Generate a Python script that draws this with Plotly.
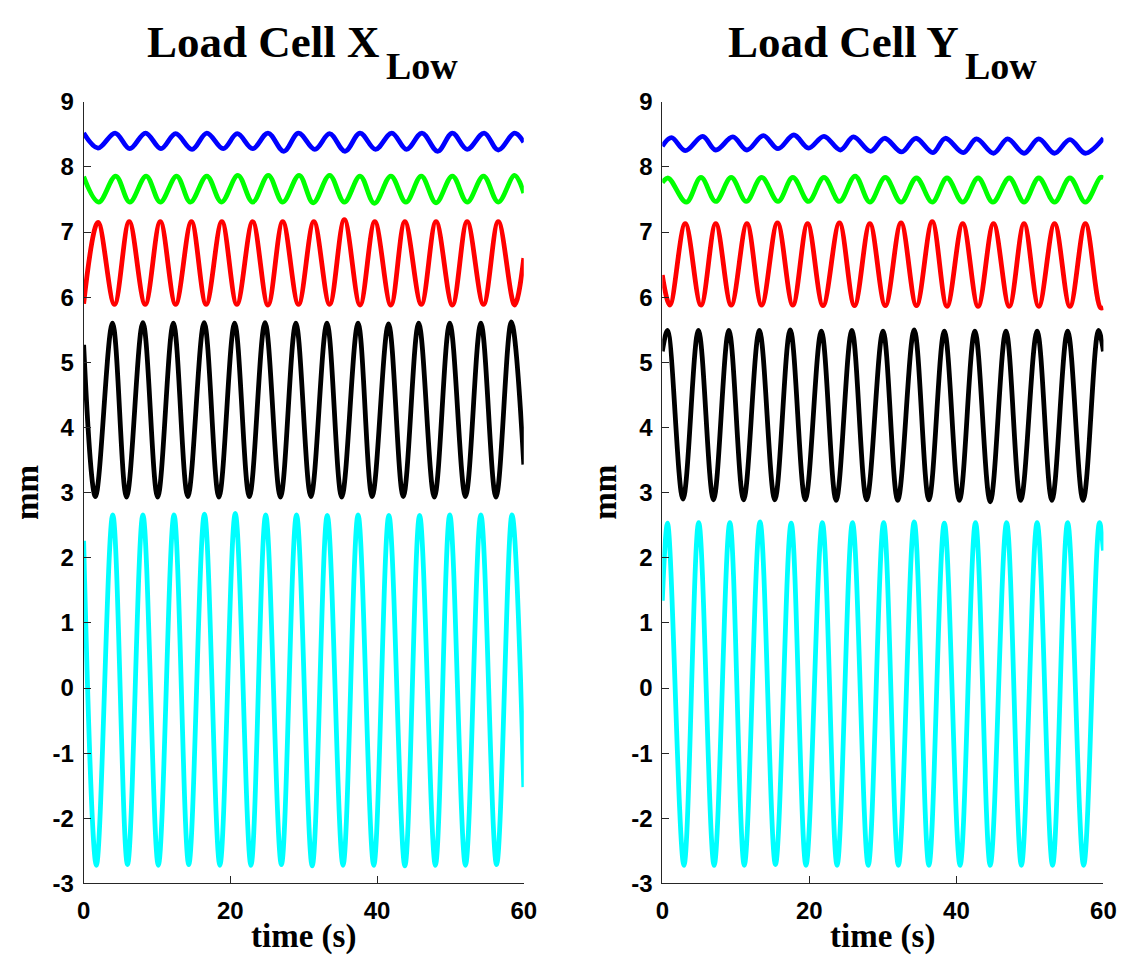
import plotly.graph_objects as go

# ---------------- data ----------------
# Left panel: Load Cell X_Low  (time in s, displacement in mm) - extrema points
X_BLUE_T = [0, 1.96, 4.29, 6.29, 8.44, 10.54, 12.54, 14.78, 16.79, 19.02, 20.94, 23.04, 25.13, 27.28, 29.29,
            31.52, 33.53, 35.63, 37.68, 39.78, 42.01, 44.02, 46.12, 48.26, 50.27, 52.28, 54.6, 56.52, 58.75, 60]
X_BLUE_V = [8.52, 8.29, 8.52, 8.28, 8.52, 8.28, 8.51, 8.27, 8.52, 8.28, 8.51, 8.28, 8.52, 8.24, 8.52,
            8.27, 8.51, 8.24, 8.52, 8.27, 8.52, 8.27, 8.52, 8.24, 8.52, 8.27, 8.52, 8.26, 8.52, 8.38]

X_GREEN_T = [0, 2.05, 4.38, 6.29, 8.53, 10.45, 12.68, 14.55, 16.79, 18.79, 21.03, 23.04, 25.18, 27.14, 29.38,
             31.29, 33.53, 35.54, 37.68, 39.64, 41.88, 43.93, 46.03, 48.04, 50.27, 52.28, 54.51, 56.52, 58.75, 60]
X_GREEN_V = [7.85, 7.46, 7.86, 7.46, 7.86, 7.46, 7.86, 7.46, 7.86, 7.46, 7.87, 7.46, 7.87, 7.46, 7.87,
             7.45, 7.87, 7.46, 7.86, 7.44, 7.86, 7.46, 7.86, 7.45, 7.86, 7.46, 7.86, 7.46, 7.87, 7.60]

X_RED_T = [0, 1.96, 4.20, 6.21, 8.39, 10.45, 12.54, 14.69, 16.70, 18.84, 20.89, 23.04, 25.13, 27.14, 29.29,
           31.38, 33.53, 35.54, 37.68, 39.69, 41.88, 43.79, 46.03, 48.04, 50.27, 52.28, 54.51, 56.52, 58.75, 60]
X_RED_V = [5.90, 7.15, 5.89, 7.16, 5.89, 7.16, 5.89, 7.16, 5.89, 7.16, 5.89, 7.16, 5.88, 7.16, 5.89,
           7.16, 5.89, 7.19, 5.88, 7.16, 5.88, 7.16, 5.89, 7.16, 5.88, 7.16, 5.89, 7.16, 5.88, 6.60]

X_BLACK_T = [0, 1.61, 3.93, 5.85, 8.08, 10.09, 12.23, 14.20, 16.43, 18.44, 20.58, 22.59, 24.73, 26.83, 28.93,
             30.98, 33.17, 35.18, 37.41, 39.33, 41.56, 43.57, 45.67, 47.81, 49.91, 52.05, 54.15, 56.21, 58.30, 60]
X_BLACK_V = [5.27, 2.94, 5.60, 2.93, 5.61, 2.93, 5.60, 2.94, 5.61, 2.93, 5.60, 2.94, 5.61, 2.93, 5.60,
             2.94, 5.60, 2.93, 5.60, 2.94, 5.59, 2.94, 5.60, 2.93, 5.60, 2.94, 5.60, 2.93, 5.62, 3.43]

X_CYAN_T = [0, 1.74, 3.97, 5.98, 8.08, 10.18, 12.32, 14.33, 16.47, 18.57, 20.67, 22.81, 24.82, 26.96, 29.02,
            31.16, 33.21, 35.36, 37.41, 39.55, 41.61, 43.79, 45.80, 47.95, 49.91, 52.05, 54.15, 56.29, 58.39, 60]
X_CYAN_V = [2.26, -2.72, 2.66, -2.71, 2.66, -2.72, 2.66, -2.71, 2.67, -2.72, 2.68, -2.72, 2.66, -2.71, 2.66,
            -2.73, 2.65, -2.72, 2.66, -2.72, 2.65, -2.73, 2.65, -2.72, 2.66, -2.72, 2.66, -2.71, 2.66, -1.52]

# Right panel: Load Cell Y_Low
Y_BLUE_T = [0, 1.25, 3.12, 5.49, 7.27, 9.59, 11.51, 13.74, 15.74, 17.89, 19.89, 21.99, 24.22, 26.00, 28.32,
            30.24, 32.56, 34.48, 36.80, 38.49, 40.94, 42.73, 45.05, 46.97, 49.20, 51.20, 53.35, 55.44, 57.54, 60]
Y_BLUE_V = [8.32, 8.45, 8.25, 8.47, 8.26, 8.46, 8.26, 8.48, 8.28, 8.49, 8.29, 8.47, 8.26, 8.46, 8.24,
            8.44, 8.23, 8.44, 8.22, 8.44, 8.22, 8.43, 8.21, 8.43, 8.21, 8.43, 8.21, 8.42, 8.21, 8.44]

Y_GREEN_T = [0, 0.80, 3.26, 5.26, 7.27, 9.37, 11.42, 13.51, 15.74, 17.75, 19.89, 21.99, 24.09, 26.23, 28.23,
             30.33, 32.47, 34.57, 36.71, 38.72, 40.86, 42.95, 44.96, 47.19, 49.20, 51.20, 53.35, 55.44, 57.54,
             59.59, 60]
Y_GREEN_V = [7.76, 7.83, 7.46, 7.84, 7.47, 7.84, 7.47, 7.84, 7.47, 7.84, 7.47, 7.84, 7.47, 7.86, 7.46,
             7.84, 7.46, 7.83, 7.46, 7.83, 7.46, 7.83, 7.46, 7.83, 7.46, 7.83, 7.46, 7.83, 7.46, 7.84, 7.83]

Y_RED_T = [0, 1.03, 3.12, 5.26, 7.27, 9.37, 11.51, 13.51, 15.66, 17.75, 19.76, 21.86, 24.09, 26.14, 28.23,
           30.33, 32.47, 34.57, 36.71, 38.72, 40.86, 42.95, 45.05, 47.19, 49.20, 51.20, 53.35, 55.44, 57.54,
           59.59, 60]
Y_RED_V = [6.34, 5.88, 7.13, 5.88, 7.13, 5.88, 7.13, 5.88, 7.14, 5.88, 7.13, 5.87, 7.14, 5.87, 7.13,
           5.87, 7.14, 5.87, 7.16, 5.86, 7.13, 5.86, 7.13, 5.86, 7.13, 5.86, 7.13, 5.86, 7.13, 5.84, 5.84]

Y_BLACK_T = [0, 0.71, 2.81, 4.91, 6.96, 9.05, 11.06, 13.20, 15.30, 17.40, 19.45, 21.63, 23.64, 25.78, 27.79,
             30.02, 32.02, 34.26, 36.26, 38.36, 40.41, 42.51, 44.60, 46.74, 48.75, 50.98, 52.99, 55.13, 57.23,
             59.32, 60]
Y_BLACK_V = [5.17, 5.49, 2.90, 5.49, 2.89, 5.49, 2.89, 5.49, 2.89, 5.50, 2.89, 5.48, 2.88, 5.49, 2.89,
             5.48, 2.88, 5.50, 2.89, 5.48, 2.88, 5.48, 2.86, 5.48, 2.88, 5.48, 2.88, 5.48, 2.88, 5.49, 5.17]

Y_CYAN_T = [0, 0.71, 2.94, 4.95, 7.05, 9.19, 11.15, 13.29, 15.39, 17.53, 19.54, 21.77, 23.77, 25.87, 28.01,
            30.11, 32.11, 34.26, 36.26, 38.36, 40.50, 42.60, 44.60, 46.83, 48.84, 50.98, 53.08, 55.13, 57.31,
            59.46, 60]
Y_CYAN_V = [1.34, 2.53, -2.72, 2.54, -2.72, 2.54, -2.72, 2.55, -2.71, 2.53, -2.72, 2.54, -2.72, 2.54, -2.72,
            2.54, -2.72, 2.55, -2.72, 2.53, -2.72, 2.54, -2.72, 2.54, -2.72, 2.54, -2.72, 2.54, -2.72, 2.54, 2.11]

X_TICKS = [0, 20, 40, 60]
X_TICK_TEXT = ["0", "20", "40", "60"]
Y_TICKS = [-3, -2, -1, 0, 1, 2, 3, 4, 5, 6, 7, 8, 9]
Y_TICK_TEXT = ["-3", "-2", "-1", "0", "1", "2", "3", "4", "5", "6", "7", "8", "9"]
TITLES = [("Load Cell X", "Low"), ("Load Cell Y", "Low")]
X_LABEL = "time (s)"
Y_LABEL = "mm"

# ---------------- figure ----------------
W, H = 1141, 973
COLORS = {"blue": "#0000FF", "green": "#00FF00", "red": "#FF0000", "black": "#000000", "cyan": "#00FFFF"}

panels = [
    [("cyan", X_CYAN_T, X_CYAN_V), ("black", X_BLACK_T, X_BLACK_V), ("red", X_RED_T, X_RED_V),
     ("green", X_GREEN_T, X_GREEN_V), ("blue", X_BLUE_T, X_BLUE_V)],
    [("cyan", Y_CYAN_T, Y_CYAN_V), ("black", Y_BLACK_T, Y_BLACK_V), ("red", Y_RED_T, Y_RED_V),
     ("green", Y_GREEN_T, Y_GREEN_V), ("blue", Y_BLUE_T, Y_BLUE_V)],
]

fig = go.Figure()
for i, series in enumerate(panels):
    xa = "x" if i == 0 else "x2"
    ya = "y" if i == 0 else "y2"
    for cname, t, v in series:
        fig.add_trace(go.Scatter(x=t, y=v, mode="lines", xaxis=xa, yaxis=ya,
                                 line=dict(color=COLORS[cname], width=4.8, shape="spline", smoothing=1),
                                 showlegend=False, hoverinfo="skip"))

x_domains = [[78 / W, 526 / W], [667 / W, 1116 / W]]
y_domain = [1 - 894.3 / H, 1 - 90.3 / H]

tickfont = dict(family="Liberation Sans", size=24, color="black", weight="bold")
axis_common = dict(showgrid=False, zeroline=False, showline=True, linecolor="#262626", linewidth=1,
                   ticks="inside", ticklen=7, tickwidth=1, tickcolor="#262626", tickfont=tickfont,
                   mirror=False, fixedrange=True, tickmode="array")

layout = dict(
    width=W, height=H, margin=dict(l=0, r=0, t=0, b=0),
    paper_bgcolor="white", plot_bgcolor="white", showlegend=False,
    xaxis=dict(domain=x_domains[0], range=[0, 60], tickvals=X_TICKS, ticktext=X_TICK_TEXT, anchor="y",
               ticklabelstandoff=6, **axis_common),
    yaxis=dict(domain=y_domain, range=[-3, 9], tickvals=Y_TICKS, ticktext=Y_TICK_TEXT, anchor="x",
               ticklabelstandoff=4, **axis_common),
    xaxis2=dict(domain=x_domains[1], range=[0, 60], tickvals=X_TICKS, ticktext=X_TICK_TEXT, anchor="y2",
                ticklabelstandoff=6, **axis_common),
    yaxis2=dict(domain=y_domain, range=[-3, 9], tickvals=Y_TICKS, ticktext=Y_TICK_TEXT, anchor="x2",
                ticklabelstandoff=4, **axis_common),
)
fig.update_layout(**layout)

serif = "Liberation Serif"
annotations = []
main_right = [382, 971]
for i, (main, sub) in enumerate(TITLES):
    annotations.append(dict(text=main, x=main_right[i] / W, y=1 - 28.5 / H, xref="paper", yref="paper",
                            xanchor="right", yanchor="middle", showarrow=False,
                            font=dict(family=serif, size=45, color="black", weight="bold")))
    annotations.append(dict(text=sub, x=(main_right[i] + 2) / W, y=1 - 53 / H, xref="paper", yref="paper",
                            xanchor="left", yanchor="middle", showarrow=False,
                            font=dict(family=serif, size=38, color="black", weight="bold")))
    cx = (x_domains[i][0] + x_domains[i][1]) / 2
    annotations.append(dict(text=X_LABEL, x=cx, y=1 - 949 / H, xref="paper", yref="paper",
                            xanchor="center", yanchor="middle", showarrow=False,
                            font=dict(family=serif, size=33, color="black", weight="bold")))
    ylx = [21, 609][i]
    annotations.append(dict(text=Y_LABEL, x=ylx / W, y=1 - 492 / H, xref="paper", yref="paper",
                            xanchor="center", yanchor="middle", showarrow=False, textangle=-90,
                            font=dict(family=serif, size=33, color="black", weight="bold")))
fig.update_layout(annotations=annotations)

fig.write_html("out.html")
